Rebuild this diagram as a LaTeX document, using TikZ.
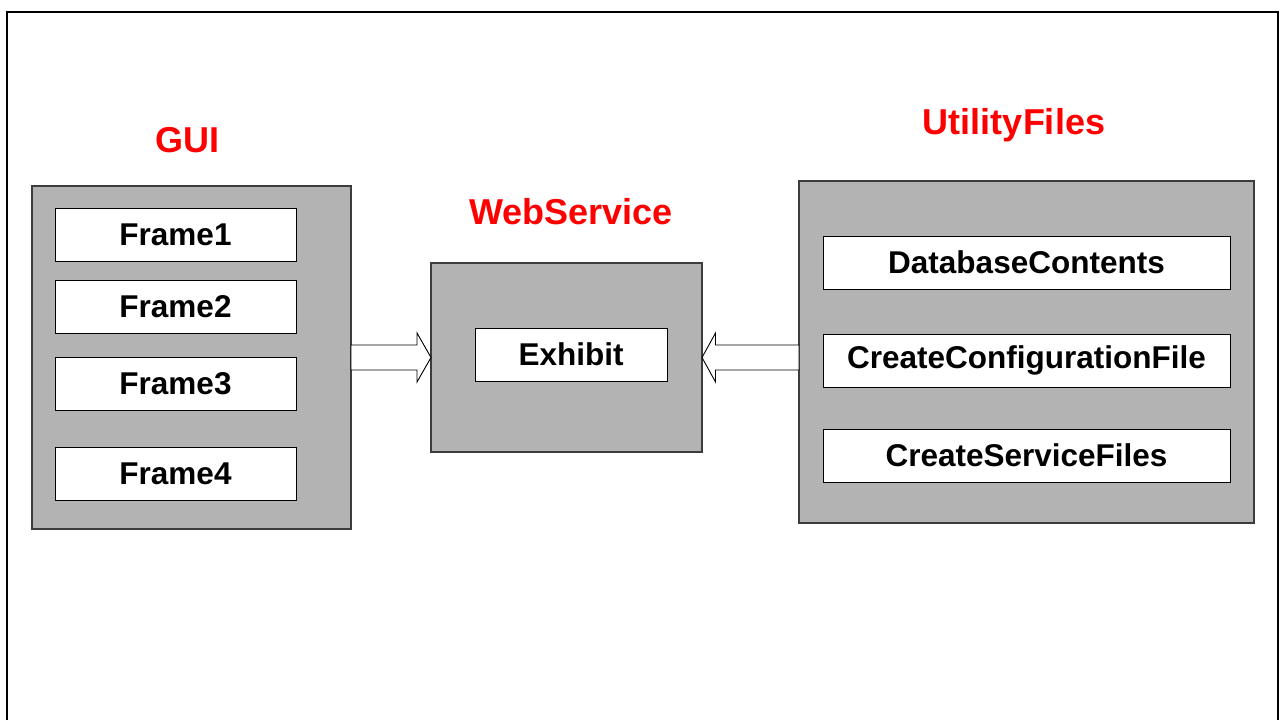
\documentclass[tikz,border=0pt]{standalone}
\usepackage{fontspec}
\setmainfont{Liberation Sans}
\usetikzlibrary{positioning, calc}
\definecolor{groupGray}{RGB}{179,179,179}
\definecolor{groupEdge}{RGB}{60,60,60}
\tikzstyle{boxGroup} = [rectangle, inner sep=0pt, outer sep=0pt, draw=groupEdge, line width=1.2pt, fill=groupGray]
\tikzstyle{boxItem} = [rectangle, inner sep=0pt, outer sep=0pt, minimum height=53pt, draw=black, line width=0.9pt, fill=white, font=\fontsize{31.5}{36}\selectfont\bfseries]
\tikzstyle{titleText} = [anchor=base, text=red, font=\fontsize{36}{42}\selectfont\bfseries]
\tikzstyle{blockArrow} = [draw=black, line width=0.9pt, fill=white, line join=miter]

\begin{document}
\begin{tikzpicture}[x=1pt, y=-1pt]
\useasboundingbox (0,0) rectangle (1282,720);

% page frame
\draw[line width=1.5pt] (7,720) -- (7,12) -- (1278,12) -- (1278,720);

% groups
\node (gui) [boxGroup, minimum width=319pt, minimum height=343pt] at (191.5,357.5) {};
\node (web) [boxGroup, minimum width=271pt, minimum height=189pt] at (566.5,357.5) {};
\node (util) [boxGroup, minimum width=455pt, minimum height=342pt] at (1026.5,352) {};

\node (guiTitle) [titleText] at (187,152) {GUI};
\node (webTitle) [titleText] at (571,224) {WebService};
\node (utilTitle) [titleText] at (1014,134) {UtilityFiles};

% GUI frames
\node (frame1) [boxItem, minimum width=241pt] at (175.5,235) {Frame1};
\node (frame2) [boxItem, minimum width=241pt, below=19pt of frame1] {Frame2};
\node (frame3) [boxItem, minimum width=241pt, below=24pt of frame2] {Frame3};
\node (frame4) [boxItem, minimum width=241pt, below=37pt of frame3] {Frame4};

% web service
\node (exhibit) [boxItem, minimum width=192pt] at (571,354.5) {Exhibit};

% utility files
\node (dbContents) [boxItem, minimum width=407pt] at (1026.5,262.5) {DatabaseContents};
\node (createConfig) [boxItem, minimum width=407pt, below=45pt of dbContents] {CreateConfigurationFile};
\node (createService) [boxItem, minimum width=407pt, below=42pt of createConfig] {CreateServiceFiles};

% block arrows
\draw[blockArrow] ($(gui.east)+(0,-12.5)$) -- ++(66,0) -- ++(0,-12) -- (web.west)
  -- ($(gui.east)+(66,24.5)$) -- ++(0,-12) -- ($(gui.east)+(0,12.5)$) -- cycle;
\draw[blockArrow] ($(util.west |- web.east)+(0,-12.5)$) -- ($(web.east)+(13.5,-12.5)$) -- ++(0,-12) -- (web.east)
  -- ($(web.east)+(13.5,24.5)$) -- ++(0,-12) -- ($(util.west |- web.east)+(0,12.5)$) -- cycle;

\end{tikzpicture}
\end{document}
